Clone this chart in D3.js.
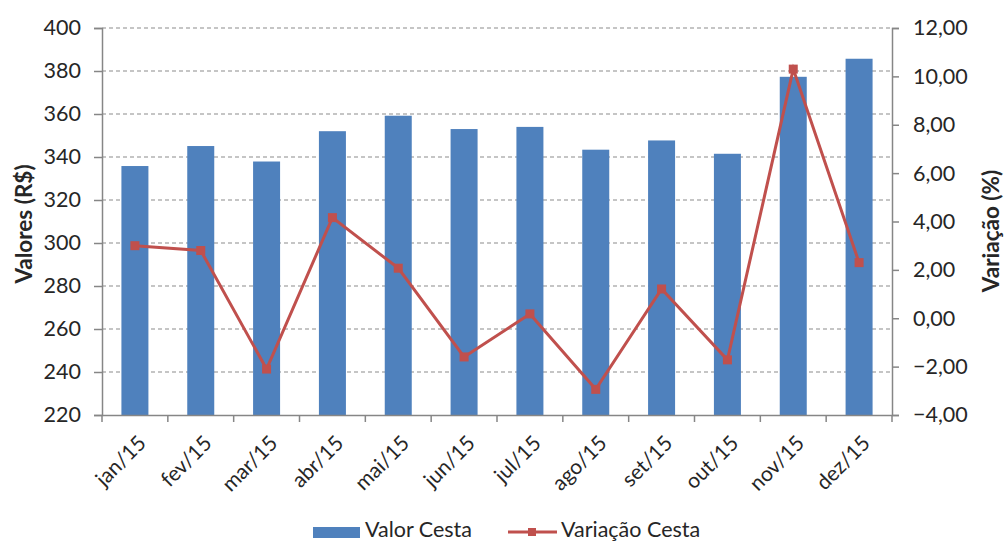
<!DOCTYPE html>
<html>
<head>
<meta charset="utf-8">
<script src="https://cdn.jsdelivr.net/npm/d3@7"></script>
<style>
  body { margin: 0; background: #fff; }
  text { font-family: Lato, "Open Sans", sans-serif; fill: #262626; }
</style>
</head>
<body>
<div id="chart"></div>
<script>
// data
var months = ["jan/15", "fev/15", "mar/15", "abr/15", "mai/15", "jun/15",
              "jul/15", "ago/15", "set/15", "out/15", "nov/15", "dez/15"];
var valorCesta = [335.8, 345.1, 337.9, 352.0, 359.2, 353.0, 354.0, 343.4, 347.7, 341.5, 377.3, 385.7];
var variacaoCesta = [3.0, 2.8, -2.1, 4.16, 2.07, -1.6, 0.18, -2.94, 1.21, -1.72, 10.3, 2.3];
var leftTicks = [220, 240, 260, 280, 300, 320, 340, 360, 380, 400];
var rightTicks = [-4, -2, 0, 2, 4, 6, 8, 10, 12];

var W = 1005, H = 543;
var plotL = 102, plotR = 892, plotT = 28, plotB = 415;

var svg = d3.select("#chart").append("svg")
    .attr("width", W)
    .attr("height", H);

var xPts = d3.scaleBand().domain(months).range([plotL, plotR]);
var yL = d3.scaleLinear().domain([220, 400]).range([plotB, plotT]);
var yR = d3.scaleLinear().domain([-4, 12]).range([plotB, plotT]);

function cx(i) { return xPts(months[i]) + xPts.bandwidth() / 2; }

// gridlines
svg.append("g")
    .selectAll("line")
    .data(leftTicks.slice(1))
    .enter().append("line")
    .attr("x1", plotL).attr("x2", plotR)
    .attr("y1", function (d) { return yL(d); })
    .attr("y2", function (d) { return yL(d); })
    .style("stroke", "#8c8c8c")
    .style("stroke-width", 1.2)
    .style("stroke-dasharray", "4,3");

// bars
svg.append("g")
    .selectAll("rect")
    .data(valorCesta)
    .enter().append("rect")
    .attr("x", function (d, i) { return cx(i) - 13.5; })
    .attr("width", 27)
    .attr("y", function (d) { return yL(d); })
    .attr("height", function (d) { return yL(220) - yL(d); })
    .style("fill", "#4f81bd");

// left axis
var axL = svg.append("g")
    .attr("transform", "translate(" + plotL + ",0)")
    .call(d3.axisLeft(yL).tickValues(leftTicks).tickSize(8).tickPadding(13));
axL.selectAll("text").style("font-size", "21.5px");

// right axis
var axR = svg.append("g")
    .attr("transform", "translate(" + plotR + ",0)")
    .call(d3.axisRight(yR).tickValues(rightTicks).tickSize(7).tickPadding(14)
        .tickFormat(function (d) { return d3.format(".2f")(d).replace(".", ","); }));
axR.selectAll("text").style("font-size", "21.5px");

// bottom axis
var axB = svg.append("g")
    .attr("transform", "translate(0," + plotB + ")")
    .call(d3.axisBottom(xPts).tickSize(0).tickFormat(""));
axB.selectAll(".tick").remove();
axB.selectAll("line.bt")
    .data(d3.range(months.length + 1))
    .enter().append("line")
    .attr("class", "bt")
    .attr("x1", function (d) { return plotL + d * xPts.step(); })
    .attr("x2", function (d) { return plotL + d * xPts.step(); })
    .attr("y1", 0).attr("y2", 7);

svg.selectAll(".domain, .tick line, line.bt")
    .style("stroke", "#868686")
    .style("stroke-width", 1.5);

// x labels
svg.append("g")
    .selectAll("text")
    .data(months)
    .enter().append("text")
    .attr("transform", function (d, i) {
        return "translate(" + (cx(i) + 2) + "," + (plotB + 19) + ") rotate(-45)";
    })
    .attr("text-anchor", "end")
    .attr("dy", "0.7em")
    .style("font-size", "21px")
    .text(function (d) { return d; });

// line series
var line = d3.line()
    .x(function (d, i) { return cx(i); })
    .y(function (d) { return yR(d); });

svg.append("path")
    .datum(variacaoCesta)
    .attr("d", line)
    .style("fill", "none")
    .style("stroke", "#c0504d")
    .style("stroke-width", 3);

svg.append("g")
    .selectAll("rect")
    .data(variacaoCesta)
    .enter().append("rect")
    .attr("x", function (d, i) { return cx(i) - 4.5; })
    .attr("y", function (d) { return yR(d) - 4.5; })
    .attr("width", 9).attr("height", 9)
    .style("fill", "#c0504d");

// axis titles
svg.append("text")
    .attr("transform", "translate(32,224) rotate(-90)")
    .attr("text-anchor", "middle")
    .style("font-size", "22.5px")
    .style("font-weight", "bold")
    .text("Valores (R$)");

svg.append("text")
    .attr("transform", "translate(999,231) rotate(-90)")
    .attr("text-anchor", "middle")
    .style("font-size", "22.5px")
    .style("font-weight", "bold")
    .text("Variação (%)");

// legend
var lg = svg.append("g");
lg.append("rect")
    .attr("x", 313).attr("y", 527).attr("width", 47).attr("height", 11)
    .style("fill", "#4f81bd");
lg.append("text")
    .attr("x", 365).attr("y", 537)
    .style("font-size", "21.5px")
    .text("Valor Cesta");
lg.append("line")
    .attr("x1", 508).attr("x2", 557).attr("y1", 532).attr("y2", 532)
    .style("stroke", "#c0504d").style("stroke-width", 3);
lg.append("rect")
    .attr("x", 528).attr("y", 528).attr("width", 8).attr("height", 8)
    .style("fill", "#c0504d");
lg.append("text")
    .attr("x", 561).attr("y", 537)
    .style("font-size", "21.5px")
    .text("Variação Cesta");
</script>
</body>
</html>
